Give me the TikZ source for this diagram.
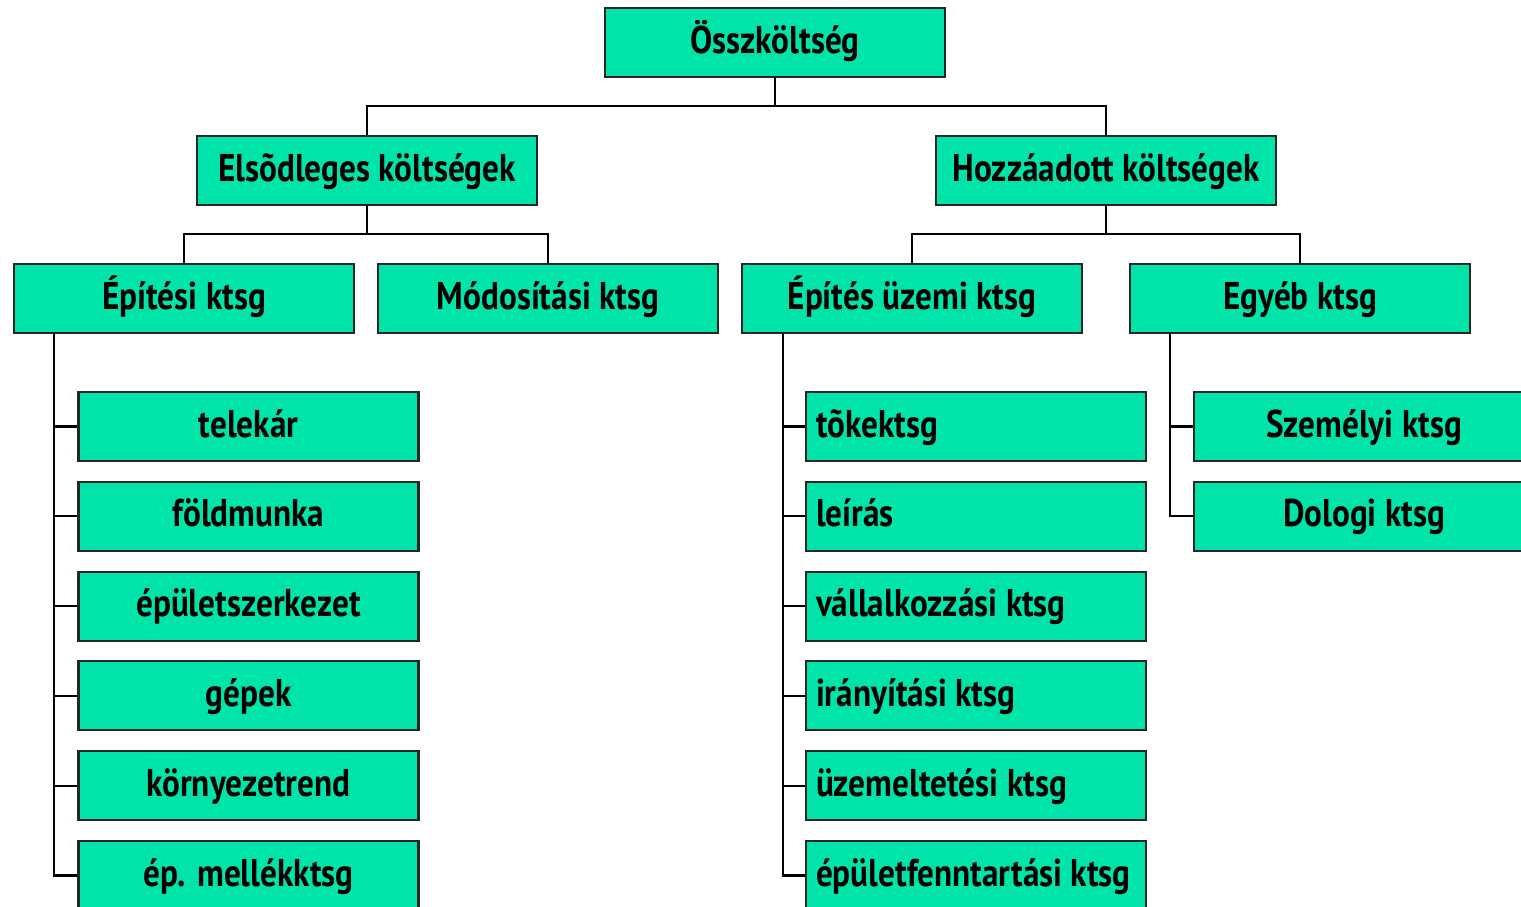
\documentclass[tikz,border=0pt]{standalone}
\usepackage{fontspec}
\setmainfont{PT Sans}[FakeStretch=0.86]
\usetikzlibrary{positioning,calc}
\definecolor{boxgreen}{RGB}{0,228,170}
\tikzset{
  kbox/.style={draw=black!85, fill=boxgreen, line width=0.6pt, minimum width=3.4cm, minimum height=0.69cm, inner sep=0pt, text height=0.6em, text depth=0pt, font=\bfseries\fontsize{11}{13}\selectfont},
  link/.style={line width=0.6pt}
}
\newcommand{\leftfill}[1]{\makebox[3.2cm][l]{#1}}
\begin{document}
\begin{tikzpicture}
    \clip (0,0) rectangle (15.21,-9.07);
    \useasboundingbox (0,0) rectangle (15.21,-9.07);

    % top levels
    \node[kbox] (ossz) at (7.75,-0.425) {Összköltség};
    \node[kbox] (elso) at (3.67,-1.705) {Elsõdleges költségek};
    \node[kbox] (hozz) at (11.06,-1.705) {Hozzáadott költségek};
    \node[kbox] (epit) at (1.84,-2.985) {Építési ktsg};
    \node[kbox] (modo) at (5.48,-2.985) {Módosítási ktsg};
    \node[kbox] (uzem) at (9.12,-2.985) {Építés üzemi ktsg};
    \node[kbox] (egyeb) at (13.00,-2.985) {Egyéb ktsg};

    \draw[link] (ossz.south) -- ++(0,-0.28) -| (elso.north);
    \draw[link] (ossz.south) -- ++(0,-0.28) -| (hozz.north);
    \draw[link] (elso.south) -- ++(0,-0.28) -| (epit.north);
    \draw[link] (elso.south) -- ++(0,-0.28) -| (modo.north);
    \draw[link] (hozz.south) -- ++(0,-0.28) -| (uzem.north);
    \draw[link] (hozz.south) -- ++(0,-0.28) -| (egyeb.north);

    % leaves
    \foreach \txt [count=\i] in {telekár, földmunka, épületszerkezet, gépek, környezetrend, ép. mellékktsg} {
        \node[kbox] (ep\i) at (2.485,{-4.265-0.898*(\i-1)}) {\txt};
        \draw[link] ([xshift=0.41cm]epit.south west) |- (ep\i.west);
    }
    \foreach \txt [count=\i] in {tõkektsg, leírás, vállalkozzási ktsg, irányítási ktsg, üzemeltetési ktsg, épületfenntartási ktsg} {
        \node[kbox] (uz\i) at (9.76,{-4.265-0.898*(\i-1)}) {\leftfill{\txt}};
        \draw[link] ([xshift=0.42cm]uzem.south west) |- (uz\i.west);
    }
    \foreach \txt [count=\i] in {Személyi ktsg, Dologi ktsg} {
        \node[kbox] (eg\i) at (13.64,{-4.265-0.898*(\i-1)}) {\txt};
        \draw[link] ([xshift=0.41cm]egyeb.south west) |- (eg\i.west);
    }
\end{tikzpicture}
\end{document}
